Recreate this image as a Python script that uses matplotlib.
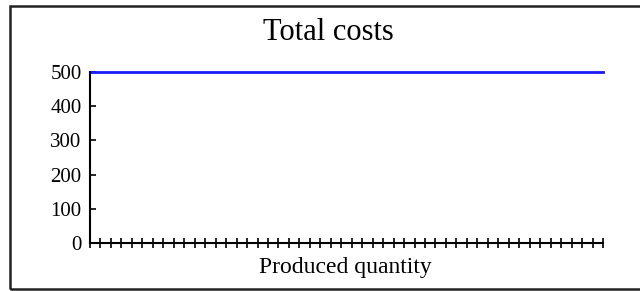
import numpy as np
import matplotlib.pyplot as plt
from matplotlib.patches import Rectangle

# data
quantity = list(range(50))
total_costs = [500] * 50
y_ticks = [0, 100, 200, 300, 400, 500]

plt.rcParams['font.family'] = ['Liberation Serif', 'DejaVu Serif']

W, H = 640, 291
fig = plt.figure(figsize=(W / 100, H / 100), dpi=100)

# outer frame of the chart area
fig.patches.append(Rectangle((10 / W, 1 - 289 / H), 650 / W, 283 / H,
                             transform=fig.transFigure, fill=False,
                             edgecolor='#222222', linewidth=1.8))

ax = fig.add_axes([90 / W, 1 - 243 / H, 513 / W, 171 / H])
ax.plot(quantity, total_costs, color='#1a1aff', linewidth=2, clip_on=False)

ax.set_xlim(quantity[0], quantity[-1])
ax.set_ylim(0, 500)
ax.set_xticks(quantity)
ax.set_xticklabels([])
ax.set_yticks(y_ticks)
ax.set_yticklabels([str(v) for v in y_ticks], fontsize=15)

for s in ['top', 'right']:
    ax.spines[s].set_visible(False)
for s in ['left', 'bottom']:
    ax.spines[s].set_linewidth(1.5)
ax.tick_params(axis='x', direction='inout', length=7, width=1.2)
ax.tick_params(axis='y', direction='in', length=4, width=1.2, pad=6)

fig.text(328 / W, 1 - 32 / H, 'Total costs', ha='center', va='center', fontsize=22)
fig.text(345 / W, 1 - 267 / H, 'Produced quantity', ha='center', va='center', fontsize=17)

fig.savefig('out.png', dpi=100)
